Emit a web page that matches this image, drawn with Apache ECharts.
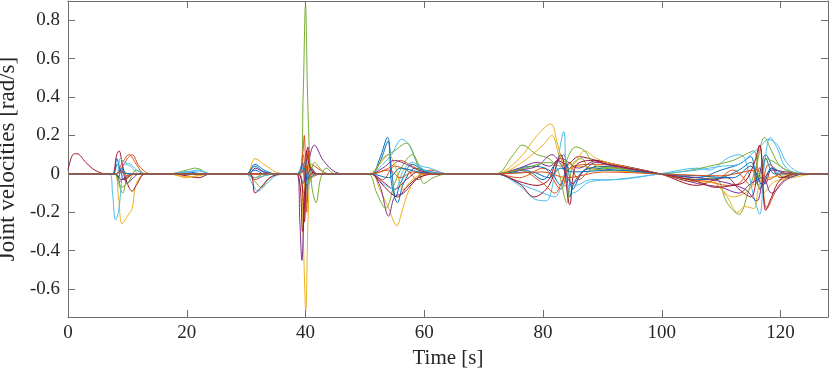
<!DOCTYPE html>
<html>
<head>
<meta charset="utf-8">
<script src="https://cdn.jsdelivr.net/npm/echarts@6/dist/echarts.min.js"></script>
<style>
  html, body { margin: 0; padding: 0; background: #fff; }
  #chart { width: 831px; height: 370px; }
</style>
</head>
<body>
<div id="chart"></div>
<script>
// joint velocity traces, [time s, rad/s] keypoints
var joint1 = [[0,0],[7.5,0],[8.2,0.08],[8.8,0.02],[9.5,-0.03],[11,0],[17,0],[20,0.01],[23,0],[30,0],[31.5,0.04],[33,0.01],[35,0],[38.5,0],[39.5,0.06],[40,-0.12],[40.6,0.05],[42,0],[51,0],[52.5,0.08],[53.8,0.19],[54.5,0.02],[55.2,-0.12],[56,-0.05],[58,0.05],[60,0.02],[64,0],[73,0],[77,0.02],[80,-0.03],[82,0.05],[83.5,0.1],[84.5,-0.12],[85.5,-0.03],[88,0.03],[92,0.02],[99.7,0],[106,-0.02],[110,0.02],[113,0.05],[115,0.09],[116,-0.05],[117.5,0.1],[119,0.02],[121,-0.02],[124,0],[128,0]];
var joint2 = [[0,0],[8,0],[9,0.03],[10,0.08],[10.8,0.1],[12,0.04],[14,0],[30.5,0],[31.5,-0.03],[33,-0.01],[35,0],[38.8,0],[39.6,0.1],[40.2,-0.15],[41,0.05],[42.5,0.02],[44,0],[51,0],[53,-0.03],[55,0.04],[57,0.02],[59,-0.03],[61,0.02],[64,0],[72,0],[76,-0.02],[80,0.03],[83,-0.08],[84.5,0.06],[86,-0.03],[89,0.04],[93,0.03],[99.7,0],[106,-0.03],[109,-0.03],[112,0.02],[115,-0.06],[116.5,0.15],[117.7,-0.18],[120,-0.05],[123,0],[128,0]];
var joint3 = [[0,0],[7.8,0],[8.5,-0.12],[9.1,-0.26],[10,-0.22],[10.8,-0.18],[11.5,-0.05],[13,0],[17,0],[20,-0.02],[23,0],[30,0],[31.5,0.08],[33,0.05],[35,0.01],[37,0],[39.1,0],[39.6,-0.32],[40.05,-0.71],[40.45,-0.22],[41,0.02],[42,0],[51,0],[52.5,-0.08],[54,-0.18],[55.4,-0.27],[56.2,-0.2],[57.5,-0.08],[59,-0.02],[62,0],[72,0],[76,0.08],[79,0.2],[81.3,0.26],[82.5,0.15],[84,0.02],[86,0.04],[90,0.02],[99.7,0],[105,-0.04],[108,-0.02],[110,-0.08],[112,-0.12],[114,-0.1],[116,-0.05],[117,-0.1],[119,-0.04],[122,-0.02],[126,0],[128,0]];
var joint4 = [[0,0],[8,0],[8.7,-0.04],[9.5,-0.02],[11,0],[30.5,0],[31.5,0.03],[33,0.01],[35,0],[38.6,0],[39.05,-0.25],[39.4,-0.45],[39.8,-0.18],[40.5,0.05],[41.5,0.15],[43,0.07],[45,0.01],[47,0],[51,0],[52.5,-0.06],[54,-0.22],[55,-0.12],[56.5,-0.1],[58,-0.05],[60,0],[62,0],[72,0],[76,0.03],[79,0.06],[81,0.04],[83,0.08],[86,0.03],[89,0.07],[92,0.05],[99.7,0],[106,-0.05],[110,-0.07],[113,-0.1],[115,-0.05],[117,-0.02],[118.5,-0.1],[121,-0.03],[124,0],[128,0]];
var joint5 = [[0,0],[7.8,0],[8.5,-0.05],[9.2,-0.1],[10,-0.02],[11,0],[17,0],[20,0.02],[21.5,0.03],[24,0],[30,0],[31.5,-0.04],[32.5,-0.07],[34,-0.02],[36,0],[39.1,0],[39.6,0.4],[40,0.88],[40.4,0.35],[41,-0.05],[41.8,-0.15],[42.5,-0.03],[43.5,0.03],[45,0],[50.5,0],[52,-0.1],[53.5,-0.18],[55,-0.05],[56.5,0.05],[58,0.1],[59.5,0.03],[62,0],[72,0],[75,0.1],[76.5,0.15],[79,0.1],[81,0.08],[82.5,0.02],[84,-0.15],[85,0.05],[86.5,0.08],[88,0.02],[92,0.03],[99.7,0],[106,-0.03],[109,-0.02],[111,-0.15],[113,-0.21],[114.5,-0.1],[116,0.05],[117.3,0.19],[118.5,0.12],[120,0.04],[123,0],[128,0]];
var joint6 = [[0,0],[7,0],[7.5,-0.1],[8,-0.24],[8.5,-0.2],[9,-0.05],[9.5,0.05],[10.5,0.04],[12,0],[17,0],[20,0.01],[22,0.02],[24,0],[30,0],[31,-0.05],[32,-0.09],[33.5,-0.05],[35,-0.01],[37,0],[38.8,0],[39.5,0.05],[40.2,-0.1],[41,0],[42,0],[51,0],[53,0.05],[54.5,0.1],[56.2,0.18],[57.5,0.15],[59,0.05],[61,0.03],[64,0],[72,0],[76,-0.06],[78.5,-0.13],[80.5,-0.14],[82,0],[83.5,0.22],[84,-0.05],[85,-0.1],[88,-0.04],[92,-0.03],[99.7,0],[106,0.03],[108,0.02],[111,0.08],[113,0.1],[114,0.08],[115.5,-0.12],[116.5,-0.21],[117.3,0.05],[118.3,0.19],[119.5,0.13],[121,0.03],[124,0],[128,0]];
var joint7 = [[0,0.02],[0.8,0.1],[1.5,0.105],[3,0.06],[4.5,0.02],[6.5,0],[7.5,0],[8.2,0.1],[8.6,0.12],[9.2,0.04],[10,-0.05],[10.8,-0.09],[11.5,-0.06],[13,0],[17,0],[20,-0.01],[22,-0.02],[24,0],[38.5,0],[39.5,-0.3],[40,0.05],[40.4,0.14],[40.8,0.02],[42,0],[51,0],[53,-0.04],[55,-0.08],[57,-0.03],[59,0.01],[62,0],[72,0],[76,-0.04],[79,-0.06],[81,-0.03],[82.5,0.07],[84,0.05],[86,0.09],[89,0.07],[99.7,0],[106,-0.06],[109,-0.03],[111,-0.02],[113,-0.08],[115,-0.12],[116.5,0.03],[117.5,-0.05],[118.5,0.03],[120,-0.02],[123,0],[128,0]];
var joint8 = [[0,0],[7.5,0],[8.3,0.05],[9,0.01],[11,0],[30,0],[31.5,0.05],[33,0.02],[35,0],[38.8,0],[39.6,-0.05],[40.1,0.08],[40.7,-0.02],[42,0],[51,0],[52.5,0.06],[53.9,0.17],[54.5,-0.05],[55.5,-0.15],[56.5,-0.05],[58.5,0.03],[62,0],[73,0],[78,0.04],[81,0.02],[83,-0.06],[84,0.05],[85,-0.08],[87,0.02],[92,0.04],[99.7,0],[106,-0.03],[110,-0.02],[113,0.02],[115,0.06],[116.5,-0.08],[117.5,0.08],[119,0],[122,0],[128,0]];
var joint9 = [[0,0],[8,0],[9,0.05],[10.3,0.1],[11.5,0.05],[13,0],[38.8,0],[39.5,0.1],[39.8,0.2],[40.2,-0.2],[40.6,0.12],[41,-0.02],[42.5,0],[51,0],[54,0.03],[56,0.07],[58,0.04],[60,0.01],[63,0],[72,0],[76,0.02],[80,-0.05],[82,-0.1],[83.5,-0.02],[85,0.04],[89,0.05],[99.7,0],[105,-0.03],[108,-0.04],[111,-0.06],[113,-0.05],[115,0.02],[116.8,-0.04],[118,0.05],[120,0.01],[123,0],[128,0]];
var joint10 = [[0,0],[8,0],[9,0.02],[10,-0.02],[11,0],[17,0],[20,-0.015],[22,-0.01],[24,0],[30,0],[31.5,-0.02],[33,0],[35,0],[38.8,0],[39.6,-0.1],[40.2,0.1],[41,0],[42,0],[50.5,0],[52.5,0.05],[54,0.1],[55,0.05],[56.5,-0.08],[58,-0.03],[60,0],[62,0],[72,0],[76,0.05],[80,0.15],[81.5,0.2],[83,0.08],[85,0.05],[87,0.12],[89,0.08],[92,0.05],[99.7,0],[106,-0.04],[109,-0.05],[111,-0.12],[112.8,-0.2],[114,-0.17],[115.5,-0.18],[116.5,-0.05],[118,-0.02],[121,-0.01],[124,0],[128,0]];
var joint11 = [[0,0],[8,0],[9,0.02],[10,-0.05],[11,-0.02],[12,0],[38.8,0],[39.5,0.05],[40,-0.05],[41,0.03],[42,0],[51,0],[53,0.03],[55,0.07],[57,0.05],[59,0.02],[62,0],[72,0],[76,0.02],[79,0.04],[81.5,0.1],[83,0.05],[85,-0.05],[87,0.02],[89,0.06],[92,0.04],[99.7,0],[106,-0.02],[110,-0.04],[114,-0.08],[116,-0.14],[117,-0.05],[118.5,0.02],[121,0.01],[124,0],[128,0]];
var joint12 = [[0,0],[8,0],[9,-0.07],[10.2,-0.04],[11.5,0.02],[13,0],[30.5,0],[31.5,-0.02],[33,0],[34,0],[39,0],[40,0.03],[40.6,-0.05],[41.5,0.06],[43,0.01],[44,0],[51,0],[53,0.08],[55,0.12],[57,0.16],[58.5,0.08],[60,-0.05],[61.5,-0.02],[64,0],[72,0],[77,0.03],[81,0.06],[83,0.04],[85.5,0.14],[87,0.12],[89,0.04],[92,0.03],[99.7,0],[105,0.02],[108,0.04],[112,0.07],[114,0.1],[115.5,0.12],[116.5,-0.03],[117.5,0.08],[119,0.06],[121,0.02],[124,0],[128,0]];
var joint13 = [[0,0],[8,0],[8.8,0.08],[9.5,0.06],[10.5,0.05],[12,0.01],[14,0],[17,0],[20,0.01],[22,0.015],[24,0],[30,0],[31.5,-0.02],[33,-0.01],[35,0],[38.8,0],[39.8,0.05],[40.2,-0.05],[41,0.02],[42,0],[51,0],[53,-0.05],[55,-0.08],[56.5,0.02],[58,0.06],[60,0.02],[63,0],[72,0],[76,-0.05],[80,-0.1],[82,-0.12],[83.5,-0.06],[85.5,-0.06],[88,-0.03],[92,-0.03],[99.7,0],[106,0.02],[110,0.04],[113,0.05],[115,0.1],[116.5,0.14],[118,0.18],[119.5,0.15],[121,0.06],[123,0.01],[126,0],[128,0]];
var joint14 = [[0,0],[8,0],[9,-0.03],[10,-0.02],[11,0],[30.5,0],[31.5,-0.1],[32.5,-0.07],[34,-0.02],[36,0],[38.8,0],[39.8,-0.25],[40.2,0.12],[40.8,0.03],[42,0],[51,0],[52.5,-0.04],[54,-0.09],[55.5,-0.12],[57,-0.07],[59,-0.02],[62,0],[72,0],[76,-0.05],[78.5,-0.12],[81,-0.06],[83,0.1],[84.5,-0.16],[85.5,0.04],[88,0.07],[91,0.05],[99.7,0],[106,-0.04],[109,-0.07],[112,-0.06],[114,-0.04],[115.5,0.05],[116.5,0.15],[117.5,-0.19],[118.5,-0.12],[120,-0.03],[123,0],[128,0]];
var joint15 = [[0,0],[8,0],[8.5,-0.02],[9,0.03],[10,0],[11,0],[30,0],[31.5,0.02],[33,0],[34,0],[39,0],[39.8,0.03],[40.3,-0.03],[41,0],[51,0],[54,-0.02],[56,0.03],[59,0.01],[62,0],[72,0],[78,0.01],[81,-0.02],[83,0.03],[85,0.01],[92,0.02],[99.7,0],[106,-0.01],[112,-0.02],[115,0.04],[117,-0.06],[118.5,0.03],[121,0],[128,0]];
var joint16 = [[0,0],[8,0],[9,0.01],[10,-0.01],[11,0],[39,0],[40,0.05],[40.5,-0.03],[41,0],[51,0],[54,0.02],[56,-0.02],[58,0.01],[60,0],[72,0],[80,0.01],[84,-0.02],[90,0.01],[99.7,0],[110,-0.01],[116,0.02],[118,-0.03],[120,0],[128,0]];

var joints = [joint1, joint2, joint3, joint4, joint5, joint6, joint7, joint8,
              joint9, joint10, joint11, joint12, joint13, joint14, joint15, joint16];

var xTicks = [0, 20, 40, 60, 80, 100, 120];
var yTicks = [-0.6, -0.4, -0.2, 0, 0.2, 0.4, 0.6, 0.8];

// matlab default line colours
var colors = ['#0072BD', '#D95319', '#EDB120', '#7E2F8E', '#77AC30', '#4DBEEE', '#A2142F'];

var font = '"Liberation Serif", "DejaVu Serif", serif';
var axisColor = '#6e6e6e';

var chart = echarts.init(document.getElementById('chart'), null, {renderer: 'canvas'});

var series = [];
for (var i = 0; i < joints.length; i++) {
    series.push({
        type: 'line',
        data: joints[i],
        xAxisIndex: 0,
        yAxisIndex: 0,
        showSymbol: false,
        smooth: 0.35,
        lineStyle: { width: 1, color: colors[i % colors.length] },
        itemStyle: { color: colors[i % colors.length] }
    });
}

function yFmt(v) {
    if (Math.abs(v) < 1e-9) return '0';
    return v.toFixed(1);
}

var lineStyle = { show: true, onZero: false, lineStyle: { color: axisColor, width: 1 } };
var xTickStyle = { inside: true, length: 7, lineStyle: { color: axisColor, width: 1 }, customValues: xTicks };
var yTickStyle = { inside: true, length: 7, lineStyle: { color: axisColor, width: 1 }, customValues: yTicks };

var option = {
    animation: false,
    backgroundColor: '#fff',
    grid: { left: 68, right: 3, top: 1, bottom: 53, containLabel: false, outerBoundsMode: 'none' },
    xAxis: [{
        type: 'value',
        min: 0, max: 128, interval: 20,
        name: 'Time [s]',
        nameLocation: 'middle',
        nameGap: 23,
        nameTextStyle: { fontFamily: font, fontSize: 21, color: '#262626' },
        axisLine: lineStyle,
        axisTick: xTickStyle,
        axisLabel: { fontFamily: font, fontSize: 19, color: '#262626', margin: 7,
            customValues: xTicks },
        splitLine: { show: false }
    }, {
        type: 'value',
        position: 'top',
        min: 0, max: 128, interval: 20,
        axisLine: lineStyle,
        axisTick: xTickStyle,
        axisLabel: { show: false },
        splitLine: { show: false }
    }],
    yAxis: [{
        type: 'value',
        min: -0.745, max: 0.9,
        name: 'Joint velocities [rad/s]',
        nameLocation: 'middle',
        nameGap: 39,
        nameTextStyle: { fontFamily: font, fontSize: 23, color: '#262626' },
        axisLine: lineStyle,
        axisTick: yTickStyle,
        axisLabel: { fontFamily: font, fontSize: 19, color: '#262626', margin: 8,
            customValues: yTicks, formatter: yFmt },
        splitLine: { show: false }
    }, {
        type: 'value',
        position: 'right',
        min: -0.745, max: 0.9,
        axisLine: lineStyle,
        axisTick: yTickStyle,
        axisLabel: { show: false },
        splitLine: { show: false }
    }],
    series: series
};

chart.setOption(option);
</script>
</body>
</html>
